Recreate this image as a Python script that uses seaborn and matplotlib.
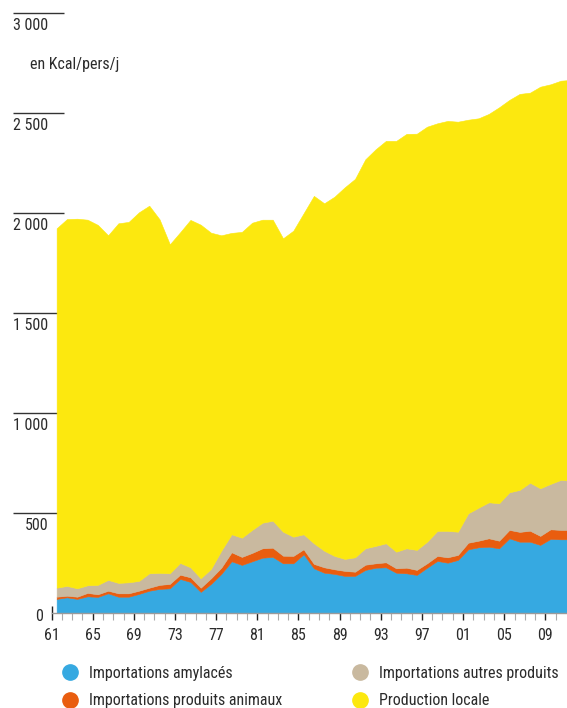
import numpy as np
import seaborn as sns
import matplotlib.pyplot as plt
from matplotlib.lines import Line2D
from matplotlib import font_manager

years = np.arange(1961, 2012)

amylaces = [72, 80, 72, 85, 82, 100, 83, 83, 97, 113, 122, 125, 172, 157, 107, 147, 197, 260, 242, 260,
            278, 282, 250, 250, 295, 225, 203, 197, 187, 187, 217, 228, 230, 203, 200, 192, 228, 262, 253, 267,
            320, 330, 333, 325, 375, 358, 358, 342, 372, 370, 370]
animaux = [11, 8, 11, 17, 13, 13, 17, 17, 16, 15, 20, 22, 21, 23, 21, 28, 31, 45, 40, 42,
           47, 46, 38, 37, 25, 22, 27, 23, 25, 21, 26, 22, 25, 22, 28, 25, 22, 25, 27, 25,
           33, 33, 42, 38, 42, 49, 55, 45, 48, 47, 47]
autres = [45, 49, 42, 38, 47, 54, 52, 55, 49, 72, 60, 53, 59, 50, 47, 47, 85, 90, 96, 115,
          128, 135, 120, 96, 75, 103, 83, 67, 60, 72, 82, 87, 95, 83, 97, 100, 108, 125, 132, 116,
          147, 165, 180, 187, 188, 210, 240, 238, 227, 250, 246]
locale = [1797, 1834, 1848, 1828, 1800, 1723, 1798, 1802, 1843, 1838, 1768, 1645, 1653, 1737, 1768, 1681,
          1577, 1507, 1529, 1536, 1515, 1505, 1467, 1530, 1605, 1737, 1737, 1796, 1858, 1892, 1945, 1983,
          2012, 2054, 2072, 2081, 2075, 2038, 2050, 2050, 1968, 1947, 1942, 1980, 1962, 1980, 1950, 2008,
          1998, 1996, 2004]

series = ["Importations amylacés", "Importations produits animaux",
          "Importations autres produits", "Production locale"]
colors = ["#36a9e1", "#e95d0f", "#c9b99f", "#fce80f"]

tick_years = list(range(1961, 2010, 4))
tick_labels = [str(y)[2:] for y in tick_years]
y_vals = [500, 1000, 1500, 2000, 2500, 3000]
y_labels = ["500", "1 000", "1 500", "2 000", "2 500", "3 000"]

sns.set_theme(style="white")
avail = {f.name for f in font_manager.fontManager.ttflist}
fam = "Roboto"
for cand in ["Roboto Condensed", "Liberation Sans Narrow", "Roboto"]:
    if cand in avail:
        fam = cand
        break
plt.rcParams["font.family"] = [fam, "DejaVu Sans"]
txt = "#2b2b2b"
fs = 11.5

fig = plt.figure(figsize=(5.67, 7.08), dpi=100)
ax = fig.add_axes([51.5 / 567, (708 - 613.3) / 708, 515.5 / 567, 600 / 708])

# each year drawn at the middle of its slot
x = years + 0.5
ax.stackplot(x, amylaces, animaux, autres, locale, colors=colors,
             edgecolor="face", linewidth=0.4, zorder=1)

ax.set_xlim(1961, 2011.1)
ax.set_ylim(0, 3000)
sns.despine(ax=ax, left=True)
ax.spines["bottom"].set_color("#9a9a9a")
ax.spines["bottom"].set_linewidth(1)

ax.set_xticks(tick_years)
ax.set_xticklabels(tick_labels)
ax.set_xticks(years[:-1], minor=True)
ax.tick_params(axis="x", which="major", direction="inout", length=9.6, width=1.0,
               color="#222222", labelsize=fs, labelcolor=txt, pad=5.5, bottom=True)
ax.tick_params(axis="x", which="minor", direction="inout", length=9.6, width=0.8,
               color="#aaaaaa", bottom=True)
ax.set_yticks([])

# y gridline stubs and labels
ax.hlines(y_vals, -(51.5 - 13.3) / 515.5, (64 - 51.5) / 515.5, transform=ax.get_yaxis_transform(),
          colors="#333333", linewidth=1, clip_on=False, zorder=0.5)
for v, lab in zip(y_vals, y_labels):
    ax.annotate(lab, xy=(0, v), xycoords=("axes fraction", "data"), xytext=(-2.5, -3.5),
                textcoords="offset points", ha="right", va="top", fontsize=fs, color=txt)
ax.annotate("0", xy=(0, 0), xycoords=("axes fraction", "data"), xytext=(-6, -2),
            textcoords="offset points", ha="right", va="center", fontsize=fs, color=txt)

fig.text(30 / 567, 1 - 65 / 708, "en Kcal/pers/j", fontsize=fs, color=txt, va="center")

handles = [Line2D([], [], marker="o", linestyle="", markersize=11, color=c) for c in colors]
kw = dict(loc="upper left", frameon=False, fontsize=fs, handlelength=1.0, handletextpad=0.69,
          labelspacing=0.78, borderpad=0, borderaxespad=0, labelcolor=txt)
fig.legend(handles[:2], series[:2], bbox_to_anchor=(62 / 567, 1 - 666 / 708), **kw)
fig.legend(handles[2:], series[2:], bbox_to_anchor=(352 / 567, 1 - 666 / 708), **kw)

fig.savefig("out.png", dpi=100)
